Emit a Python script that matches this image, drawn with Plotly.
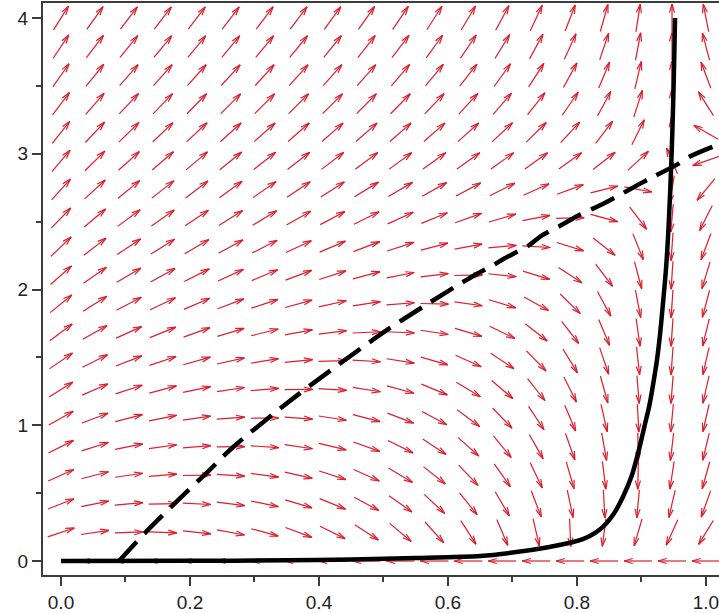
import numpy as np
import plotly.graph_objects as go

# ---------------- data ----------------
# direction-field grid (20 x 20 arrows)
grid_x = list(np.linspace(0.0, 1.0, 20))
grid_y = list(np.linspace(0.0, 4.0, 20))

# solid curve (x-nullcline)
solid_x = [0.0, 0.20, 0.35, 0.45, 0.55, 0.65, 0.70, 0.753, 0.794, 0.82, 0.84, 0.856,
           0.871, 0.885, 0.895, 0.905, 0.912, 0.918, 0.924, 0.929, 0.933, 0.938, 0.942,
           0.946, 0.949, 0.951, 0.952]
solid_y = [0.0, 0.001, 0.005, 0.012, 0.022, 0.037, 0.062, 0.10, 0.14, 0.185, 0.25, 0.34,
           0.47, 0.63, 0.80, 1.00, 1.14, 1.30, 1.48, 1.68, 1.88, 2.15, 2.46, 2.90, 3.35,
           3.75, 4.0]

# dashed curve (y-nullcline)
dash_x = [0.09, 0.133, 0.184, 0.226, 0.267, 0.366, 0.505, 0.567, 0.639, 0.67, 0.688,
          0.727, 0.743, 0.778, 0.80, 0.84, 0.856, 0.898, 0.918, 0.955, 0.975, 1.02]
dash_y = [0.0, 0.22, 0.46, 0.65, 0.84, 1.22, 1.70, 1.89, 2.10, 2.18, 2.23,
          2.33, 2.39, 2.48, 2.54, 2.63, 2.67, 2.78, 2.83, 2.92, 2.98, 3.07]

# continuation of the y-nullcline to the left of x=0.09 (read from arrow slopes)
ext_x = [0.0, 0.053]
ext_y = [-1.3, -0.42]

# x-rate parameters read from arrow slopes / solid curve
asym_x = 0.962
rate_c = 0.07
rate_n = 3.33

# ---------------- layout geometry ----------------
W, H = 719, 613
ml, mr, mt, mb = 43, 0, 3, 38
x_range = [-0.0279, 1.0202]
y_range = [-0.1031, 4.1105]
px_x = (W - ml - mr) / (x_range[1] - x_range[0])
px_y = (H - mt - mb) / (y_range[1] - y_range[0])

null_x = np.array(ext_x + dash_x)
null_y = np.array(ext_y + dash_y)


def fx(x, y):
    return y * (asym_x - x) - rate_c * x ** rate_n


def fy(x, y):
    D = np.interp(x, null_x, null_y)
    return (1.0 + 0.09 * y) * y * (y - D)


L = 28.0       # arrow length in px
HL = 9.0       # head length px
HA = np.radians(16)

ax_pts, ay_pts = [], []
for xv in grid_x:
    for yv in grid_y:
        u = fx(xv, yv) * px_x
        v = fy(xv, yv) * px_y
        m = np.hypot(u, v)
        if m < 1e-12:
            continue
        u /= m
        v /= m
        x0 = xv - 0.5 * L * u / px_x
        y0 = yv - 0.5 * L * v / px_y
        x1 = xv + 0.5 * L * u / px_x
        y1 = yv + 0.5 * L * v / px_y
        ax_pts += [x0, x1, None]
        ay_pts += [y0, y1, None]
        for s in (1, -1):
            ca, sa = np.cos(s * HA), np.sin(s * HA)
            bu = -(u * ca - v * sa)
            bv = -(u * sa + v * ca)
            ax_pts += [x1, x1 + HL * bu / px_x, None]
            ay_pts += [y1, y1 + HL * bv / px_y, None]

fig = go.Figure()
fig.add_trace(go.Scatter(x=ax_pts, y=ay_pts, mode="lines",
                         line=dict(color="rgb(220,30,45)", width=1.2),
                         hoverinfo="skip", showlegend=False))
fig.add_trace(go.Scatter(x=dash_x, y=dash_y, mode="lines",
                         line=dict(color="black", width=4.5, dash="26px,11px",
                                   shape="spline", smoothing=0.8),
                         showlegend=False))
fig.add_trace(go.Scatter(x=solid_x, y=solid_y, mode="lines",
                         line=dict(color="black", width=4.5, shape="spline", smoothing=0.8),
                         showlegend=False))

axis_common = dict(showgrid=False, zeroline=False, showline=True,
                   linecolor="rgb(60,60,60)", linewidth=2, ticks="outside",
                   tickcolor="rgb(60,60,60)", tickwidth=1.5, ticklen=9,
                   ticklabeloverflow="allow",
                   tickfont=dict(family="Liberation Sans", size=19, color="#222"))

fig.update_layout(
    width=W, height=H,
    margin=dict(l=ml, r=mr, t=mt, b=mb),
    plot_bgcolor="white", paper_bgcolor="white",
    xaxis=dict(range=x_range, tick0=0, dtick=0.2, tickformat=".1f", mirror=True,
               minor=dict(dtick=0.1, ticklen=5, ticks="outside", tickcolor="rgb(60,60,60)"),
               **axis_common),
    yaxis=dict(range=y_range, tick0=0, dtick=1, tickformat="d",
               minor=dict(dtick=0.5, ticklen=5, ticks="outside", tickcolor="rgb(60,60,60)"),
               **axis_common),
)

fig.write_html("out.html", config={"displayModeBar": False},
               post_script="document.body.style.margin='0';document.body.style.overflow='hidden';")
